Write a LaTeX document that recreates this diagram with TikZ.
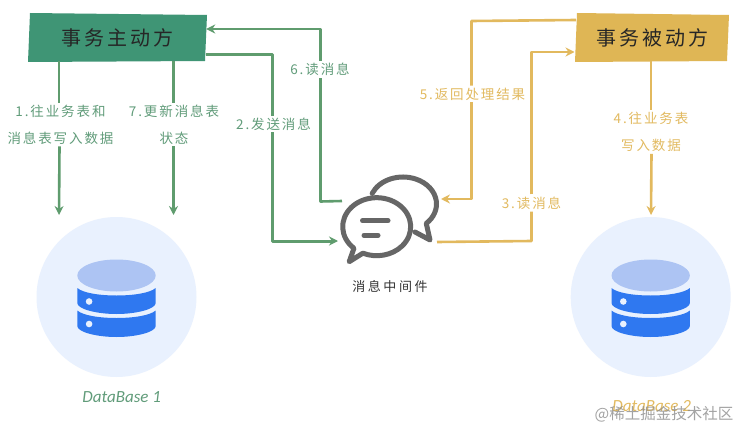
\documentclass[tikz,border=0pt]{standalone}
\usepackage{fontspec}
\usetikzlibrary{arrows.meta}
\setmainfont{Noto Sans CJK SC}
\newfontfamily\boxfont[LetterSpace=15]{Noto Sans CJK SC}
\newfontfamily\lblfont[LetterSpace=14]{Noto Sans CJK SC}
\newfontfamily\midfont[LetterSpace=20]{Noto Sans CJK SC}
\newfontfamily\dbfont{Carlito}
\definecolor{gline}{HTML}{5F9C6E}
\definecolor{gtext}{HTML}{619C7A}
\definecolor{yline}{HTML}{E2B95E}
\definecolor{ytext}{HTML}{E2BA60}
\definecolor{gbox}{HTML}{3F9575}
\definecolor{ybox}{HTML}{DFB655}
\definecolor{dbbg}{HTML}{E9F1FE}
\definecolor{dbtop}{HTML}{ADC4F3}
\definecolor{dbblue}{HTML}{2F78F0}
\definecolor{icon}{HTML}{666666}
\tikzset{
  actor/.style={minimum width=177pt,minimum height=47pt,inner sep=0pt,text=black!85,font=\boxfont\fontsize{20}{24}\selectfont},
  glink/.style={draw=gline,line width=2.6pt,line join=round,-{Stealth[length=9pt,width=9pt]}},
  gplain/.style={draw=gline,line width=2.6pt,line join=round},
  ylink/.style={draw=yline,line width=2.6pt,line join=round,-{Stealth[length=9pt,width=9pt]}},
  glabel/.style={fill=white,inner sep=2pt,align=center,text=gtext,font=\lblfont\fontsize{13.5}{27}\selectfont},
  ylabel/.style={fill=white,inner sep=2pt,align=center,text=ytext,font=\lblfont\fontsize{13.5}{27}\selectfont},
  dbdisc/.style={circle,fill=dbbg,minimum size=160pt,inner sep=0pt},
  bubble/.style={draw=icon,line width=5pt,line join=round,line cap=round},
  pics/dbicon/.style={code={
    \fill[dbtop] (0,21.5) ellipse[x radius=39.2,y radius=16];
    \fill[dbblue] (-39.2,9) .. controls (-28,-1) and (28,-1) .. (39.2,9) -- (39.2,-6)
      .. controls (39.2,-12) and (20,-17) .. (0,-17) .. controls (-20,-17) and (-39.2,-12) .. (-39.2,-6) -- cycle;
    \fill[dbblue] (-39.2,-13.5) .. controls (-28,-23.5) and (28,-23.5) .. (39.2,-13.5) -- (39.2,-29)
      .. controls (39.2,-35) and (20,-40) .. (0,-40) .. controls (-20,-40) and (-39.2,-35) .. (-39.2,-29) -- cycle;
    \fill[dbbg] (-27.4,-4.5) circle[radius=3.3];
    \fill[dbbg] (-27.4,-27) circle[radius=3.3];
  }}
}
\begin{document}
\begin{tikzpicture}[x=1pt,y=1pt]
\useasboundingbox (0,0) rectangle (739,-428);
\fill[white] (0,0) rectangle (739,-428);

% databases
\node[dbdisc] (db1) at (116.5,-297) {};
\node[dbdisc] (db2) at (650.7,-297) {};
\pic at (db1.center) {dbicon};
\pic at (db2.center) {dbicon};
\node[text=gtext,font=\dbfont\itshape\fontsize{17}{20}\selectfont] (db1name) at (121.7,-397) {DataBase 1};
\node[text=ytext,font=\dbfont\itshape\fontsize{17}{20}\selectfont] (db2name) at (651.7,-406) {DataBase 2};
\coordinate (db1a) at (59,-215);
\coordinate (db1b) at (173.5,-215);
\coordinate (db2a) at (651,-215);

% actors
\fill[gbox] (30,-13) -- (207,-15) -- (205,-61) -- (28,-62) -- cycle;
\fill[ybox] (577,-13) -- (729,-15) -- (727,-61) -- (575,-62) -- cycle;
\node[actor] (active) at (117.5,-37.5) {事务主动方};
\node[actor,minimum width=152pt] (passive) at (652,-37.5) {事务被动方};

% middleware icon
\begin{scope}[shift={(403,-204)}]
  \draw[bubble] (157:33.5 and 27) arc[start angle=157,end angle=-46,x radius=33.5,y radius=27]
     -- (27,-36) -- (12,-28);
\end{scope}
\begin{scope}[shift={(376.7,-226.7)}]
  \fill[white] (0,0) ellipse[x radius=34,y radius=29];
  \draw[bubble] (228:34 and 29) arc[start angle=228,end angle=-114,x radius=34,y radius=29]
     -- (-27.5,-35) -- cycle;
\end{scope}
\draw[icon,line width=5pt,line cap=round] (362.5,-220.7) -- (388,-220.7);
\draw[icon,line width=5pt,line cap=round] (364,-235.3) -- (378,-235.3);
\node[text=black!80,font=\midfont\fontsize{13}{15}\selectfont] (mq) at (390,-286.7) {消息中间件};
\coordinate (mqin) at (338,-241);
\coordinate (mqout) at (342,-201);
\coordinate (mqback) at (441,-199);
\coordinate (mqread) at (437,-242);

% labels
\node[glabel] (l1) at (60.5,-124.5) {1.往业务表和\\消息表写入数据};
\node[glabel] (l7) at (174,-124.5) {7.更新消息表\\状态};
\node[glabel] (l2) at (273.5,-124) {2.发送消息};
\node[glabel] (l6) at (320,-69.5) {6.读消息};
\node[ylabel] (l5) at (472.5,-94) {5.返回处理结果};
\node[ylabel] (l3) at (531.5,-203) {3.读消息};
\node[ylabel] (l4) at (651,-132) {4.往业务表\\写入数据};

% connectors
\draw[gplain] (59,0 |- active.south) -- (l1.north -| 59,0);
\draw[glink] (l1.south -| 59.5,0) -- (db1a);
\draw[gplain] (173.5,0 |- active.south) -- (l7.north -| 173.5,0);
\draw[glink] (l7.south -| 173.5,0) -- (db1b);
\draw[gplain,line width=3pt] (active.east |- 0,-54.5) -- (272,-54.5) -- (l2.north -| 272,0);
\draw[glink,line width=3pt] (l2.south -| 272,0) -- (272,-241) -- (mqin);
\draw[gplain] (mqout) -- (320.5,-201.5) -- (l6.south -| 320.5,0);
\draw[glink] (l6.north -| 320.5,0) -- (320.5,-29) -- (active.east |- 0,-29);
\draw[ylink,-] (passive.west |- 0,-20) -- (471.5,-21) -- (l5.north -| 471.5,0);
\draw[ylink] (l5.south -| 471.5,0) -- (471.5,-199) -- (mqback);
\draw[ylink,-] (mqread) -- (531.5,-241) -- (l3.south -| 531.5,0);
\draw[ylink] (l3.north -| 531.5,0) -- (531.5,-52) -- (574.5,-52);
\draw[ylink,-] (651,0 |- passive.south) -- (l4.north -| 651,0);
\draw[ylink] (l4.south -| 651.5,0) -- (db2a);

% watermark
\node[text=black!45,opacity=.8,font=\fontsize{15.5}{18}\selectfont] (wm) at (664,-414) {@稀土掘金技术社区};
\end{tikzpicture}
\end{document}
